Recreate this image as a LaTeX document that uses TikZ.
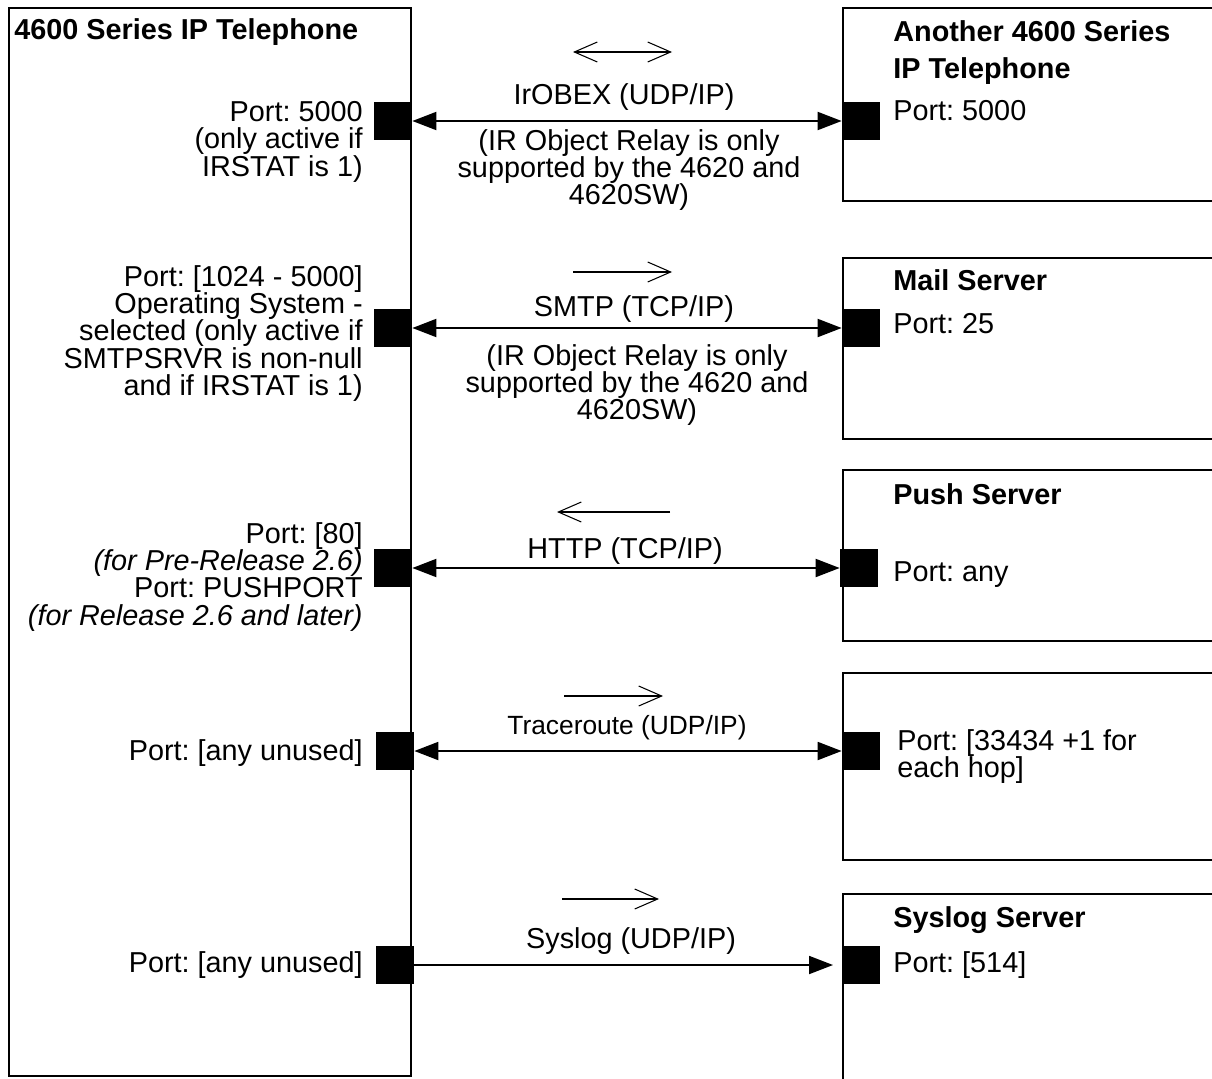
\documentclass[tikz,border=0pt]{standalone}
\usepackage{fontspec}
\setmainfont{Liberation Sans}
\usetikzlibrary{arrows.meta}
\newcommand\lblfont{\fontsize{16.4}{15.6}\selectfont}
\newcommand\trfont{\fontsize{15}{15.6}\selectfont}
\newcommand\ttlfont{\bfseries\fontsize{16.4}{15.6}\selectfont}
\frenchspacing
\begin{document}
\frenchspacing
\begin{tikzpicture}[x=0.02cm, y=-0.02cm,
  box/.style={draw, line width=1.1pt, inner sep=0pt, anchor=north west},
  port/.style={fill=black, draw=none, inner sep=0pt, minimum size=0.76cm},
  lbl/.style={inner sep=0pt, font=\lblfont},
  ttl/.style={inner sep=0pt, font=\ttlfont, anchor=base west},
  ml/.style={lbl, execute at begin node=\strut},
  conn/.style={line width=1.1pt, arrows={Triangle[length=0.48cm,width=0.36cm]-Triangle[length=0.48cm,width=0.36cm]}},
  oneway/.style={line width=1.1pt, arrows={-Triangle[length=0.48cm,width=0.36cm]}},
  dirline/.style={line width=0.6pt},
  barb/.style={arrows={-Straight Barb[length=0.46cm,width=0.4cm]}},
  barbboth/.style={arrows={Straight Barb[length=0.46cm,width=0.4cm]-Straight Barb[length=0.46cm,width=0.4cm]}}
]
\useasboundingbox (0,0) rectangle (1212,1078);
\clip (0,0) rectangle (1212,1078);

% main boxes
\node[box, minimum width=8.04cm, minimum height=21.36cm] (phone) at (8,7) {};
\node[box, minimum width=8cm, minimum height=3.86cm] (other) at (842,7) {};
\node[box, minimum width=8cm, minimum height=3.62cm] (mail) at (842,257) {};
\node[box, minimum width=8cm, minimum height=3.42cm] (push) at (842,469) {};
\node[box, minimum width=8cm, minimum height=3.74cm] (trace) at (842,672) {};
\node[box, minimum width=8cm, minimum height=4.4cm] (syslog) at (842,893) {};

% titles
\node[ttl] (tphone) at (14,40) {4600 Series IP Telephone};
\node[ttl] (tother1) at (893,42) {Another 4600 Series};
\node[ttl] (tother2) at (893,78) {IP Telephone};
\node[ttl] (tmail) at (893,290) {Mail Server};
\node[ttl] (tpush) at (893,504) {Push Server};
\node[ttl] (tsys) at (893,927) {Syslog Server};

% ports
\node[port] (L1) at (393,121) {};
\node[port] (L2) at (393,328) {};
\node[port] (L3) at (393,568) {};
\node[port] (L4) at (395,751) {};
\node[port] (L5) at (395,965) {};
\node[port] (R1) at (861,121) {};
\node[port] (R2) at (861,328) {};
\node[port] (R3) at (859,568) {};
\node[port] (R4) at (861,751) {};
\node[port] (R5) at (861,965) {};

% left labels
\node[ml, anchor=north east, align=right] (pl1) at (363,100.8)
  {Port: 5000\\(only active if\\IRSTAT is 1)};
\node[ml, anchor=north east, align=right] (pl2) at (363,264.8)
  {Port: [1024 - 5000]\\Operating System -\\selected (only active if\\SMTPSRVR is non-null\\and if IRSTAT is 1)};
\node[ml, anchor=north east, align=right] (pl3) at (363,521.8)
  {Port: [80]\\\textit{(for Pre-Release 2.6)}\\Port: PUSHPORT\\\textit{(for Release 2.6 and later)}};
\node[lbl, anchor=base east] (pl4) at (363,760) {Port: [any unused]};
\node[lbl, anchor=base east] (pl5) at (363,972) {Port: [any unused]};

% right labels
\node[lbl, anchor=base west] (pr1) at (893,120) {Port: 5000};
\node[lbl, anchor=base west] (pr2) at (893,333) {Port: 25};
\node[lbl, anchor=base west] (pr3) at (893,581) {Port: any};
\node[ml, anchor=north west, align=left] (pr4) at (897,729) {Port: [33434 +1 for\\each hop]};
\node[lbl, anchor=base west] (pr5) at (893,972) {Port: [514]};

% protocol labels
\node[lbl, anchor=base] (p1) at (624,104) {IrOBEX (UDP/IP)};
\node[ml, anchor=north, align=center] (n1) at (629,128.8)
  {(IR Object Relay is only\\supported by the 4620 and\\4620SW)};
\node[lbl, anchor=base] (p2) at (634,316) {SMTP (TCP/IP)};
\node[ml, anchor=north, align=center] (n2) at (637,343.8)
  {(IR Object Relay is only\\supported by the 4620 and\\4620SW)};
\node[lbl, anchor=base] (p3) at (625,558) {HTTP (TCP/IP)};
\node[inner sep=0pt, font=\trfont, anchor=base] (p4) at (627,734) {Traceroute (UDP/IP)};
\node[lbl, anchor=base] (p5) at (631,948) {Syslog (UDP/IP)};

% connectors
\draw[conn] (L1.east) -- (R1.west);
\draw[conn] (L2.east) -- (R2.west);
\draw[conn] (L3.east) -- (R3.west);
\draw[conn] (L4.east) -- (R4.west);
\coordinate (s5) at (833,965);
\draw[oneway] (L5.east) -- (s5);

% direction indicators
\coordinate (d1a) at (573,52);  \coordinate (d1b) at (672,52);
\coordinate (d2a) at (573,272); \coordinate (d2b) at (672,272);
\coordinate (d3a) at (670,512); \coordinate (d3b) at (557,512);
\coordinate (d4a) at (564,696); \coordinate (d4b) at (663,696);
\coordinate (d5a) at (562,899); \coordinate (d5b) at (659,899);
\draw[dirline, barbboth] (d1a) -- (d1b);
\draw[dirline, barb] (d2a) -- (d2b);
\draw[dirline, barb] (d3a) -- (d3b);
\draw[dirline, barb] (d4a) -- (d4b);
\draw[dirline, barb] (d5a) -- (d5b);
\end{tikzpicture}
\end{document}
